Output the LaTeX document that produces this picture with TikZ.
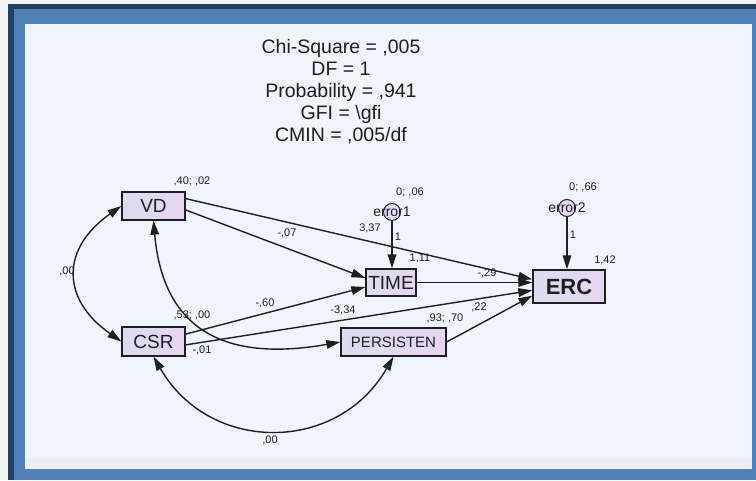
\documentclass[tikz,border=0pt]{standalone}
\usepackage{fontspec}
\setmainfont{Liberation Sans}
\usetikzlibrary{arrows.meta,positioning,shapes.geometric}
\definecolor{ink}{HTML}{1F1F1F}
\definecolor{navy}{HTML}{243F60}
\definecolor{frame}{HTML}{4F81BD}
\definecolor{panel}{HTML}{EEF5FD}
\definecolor{strip}{HTML}{ECEEF1}
\definecolor{varl}{HTML}{D9DDEE}
\definecolor{varr}{HTML}{E7D5F2}
\tikzset{
  var/.style={draw=ink,line width=1.3pt,left color=varl,right color=varr,inner sep=0pt,text=ink,font=\fontsize{19}{19}\selectfont},
  errc/.style={circle,draw=ink,line width=1pt,left color=varl,right color=varr,minimum size=17pt,inner sep=0pt},
  lbl/.style={inner sep=0pt,text=ink,font=\fontsize{11}{11}\selectfont},
  ename/.style={inner sep=0pt,text=ink,font=\fontsize{14}{14}\selectfont},
  fit/.style={align=center,text=ink,font=\fontsize{19.5}{22}\selectfont},
  ar/.style={-{Triangle[length=14pt,width=8.5pt]},draw=ink,line width=1.4pt},
  cov/.style={{Triangle[length=14pt,width=8.5pt]}-{Triangle[length=14pt,width=8.5pt]},draw=ink,line width=1.4pt},
}
\begin{document}
\begin{tikzpicture}[x=1pt,y=-1pt]
  % window frame
  \useasboundingbox (0,0) rectangle (756,480);
  \fill[white!95!black] (0,0) rectangle (756,480);
  \fill[navy] (8,4) rectangle (756,480);
  \fill[frame] (14,9) rectangle (756,480);
  \fill[panel] (25,24) rectangle (752,469);
  \fill[strip] (25,458) rectangle (752,469);

  \node[fit] (stats) at (341,92) {Chi-Square = ,005\\DF = 1\\Probability = ,941\\GFI = \textbackslash gfi\\CMIN = ,005/df};

  % observed variables
  \node[var,minimum width=63pt,minimum height=28pt] (VD) at (153.5,206) {VD};
  \node[var,minimum width=63pt,minimum height=29pt] (CSR) at (153.5,341.5) {CSR};
  \node[var,minimum width=50pt,minimum height=27pt] (TIME) at (391,282.5) {TIME};
  \node[var,minimum width=105pt,minimum height=28pt,font=\fontsize{15}{15}\selectfont] (PERS) at (393.5,342) {PERSISTEN};
  \node[var,minimum width=72pt,minimum height=33pt,font=\fontsize{22}{22}\selectfont\bfseries] (ERC) at (569,286.5) {ERC};

  % errors
  \node[errc] (e1) at (392,212) {};
  \node[ename] (e1name) at (e1) {error1};
  \node[errc] (e2) at (567,208) {};
  \node[ename] (e2name) at (e2) {error2};

  % paths
  \draw[ar] (VD.13) -- (ERC.169);
  \draw[ar] (VD.-7) -- (TIME.170);
  \draw[ar] (CSR.13) -- (TIME.190);
  \draw[ar] (CSR.-6) -- (ERC.-174);
  \draw[ar] (TIME.east) -- (TIME.east -| ERC.west);
  \draw[ar] (PERS.east) -- (ERC.-166);
  \draw[ar] (e1) -- (TIME.north -| e1);
  \draw[ar] (e2) -- (ERC.north -| e2);

  % covariances
  \draw[cov] (VD.west) to[out=215,in=145,looseness=1.4] (CSR.west);
  \draw[cov] (CSR.south) to[out=-60,in=-120,looseness=1.2] (PERS.south);
  \draw[cov] (VD.south) to[out=-85,in=190,looseness=1.3] (PERS.west);

  % estimates
  \node[lbl] (vdv) at (192,181) {,40; ,02};
  \node[lbl] (csrv) at (192,315) {,53; ,00};
  \node[lbl] (persv) at (445,318) {,93; ,70};
  \node[lbl] (e1v) at (410,192) {0; ,06};
  \node[lbl] (e2v) at (583,187) {0; ,66};
  \node[lbl] (timei) at (420,258) {1,11};
  \node[lbl] (erci) at (605,260) {1,42};
  \node[lbl] (w1) at (398,237) {1};
  \node[lbl] (w2) at (573,235) {1};
  \node[lbl] (vdtime) at (287,233) {-,07};
  \node[lbl] (vderc) at (370,228) {3,37};
  \node[lbl] (timeerc) at (487,273) {-,29};
  \node[lbl] (csrtime) at (265,303) {-,60};
  \node[lbl] (csrerc) at (343,310) {-3,34};
  \node[lbl] (perserc) at (479,307) {,22};
  \node[lbl] (vdcsr) at (67,271) {,00};
  \node[lbl] (vdpers) at (202,350) {-,01};
  \node[lbl] (csrpers) at (270,440) {,00};
\end{tikzpicture}
\end{document}
